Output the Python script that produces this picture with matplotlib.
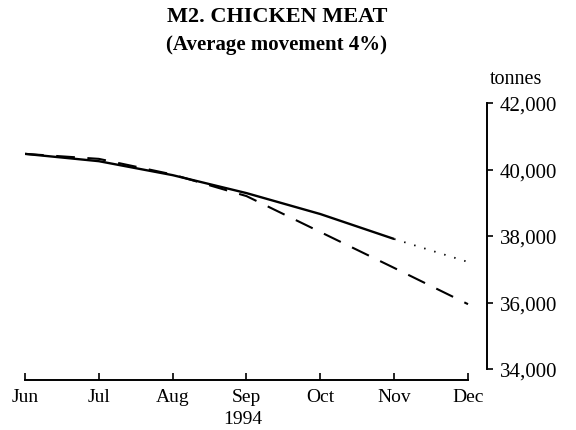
import matplotlib
matplotlib.use("Agg")
import matplotlib.pyplot as plt

months = ["Jun", "Jul", "Aug", "Sep", "Oct", "Nov", "Dec"]
trend_x = [0, 1, 2, 3, 4, 5]
trend = [40470, 40250, 39830, 39290, 38660, 37910]
proj_x = [5, 6]
projection = [37910, 37220]
prev_x = [0, 1, 2, 3, 4, 5, 6]
previous = [40470, 40320, 39850, 39200, 38120, 37040, 35950]
yticks = [34000, 36000, 38000, 40000, 42000]
ytick_labels = ["34,000", "36,000", "38,000", "40,000", "42,000"]

plt.rcParams["font.family"] = ["Liberation Serif", "DejaVu Serif"]

fig = plt.figure(figsize=(5.76, 4.31), dpi=100)
ax = fig.add_axes([25 / 576, (431 - 370) / 431, (487 - 25) / 576, (370 - 104) / 431])

ax.plot(trend_x, trend, color="black", lw=1.7, solid_capstyle="butt")
ax.plot(proj_x, projection, color="black", lw=1.3, linestyle=(0, (0.8, 5)))
ax.plot(prev_x, previous, color="black", lw=1.5, linestyle=(0, (9, 6)))

ax.set_xlim(0, 6 + 19 / 73.83)
ax.set_ylim(34000, 42000)

for s in ["top", "left"]:
    ax.spines[s].set_visible(False)
ax.spines["right"].set_bounds(34000, 42000)
ax.spines["right"].set_linewidth(1.4)
ax.spines["bottom"].set_bounds(0, 6)
ax.spines["bottom"].set_position(("outward", 8))
ax.spines["bottom"].set_linewidth(1.4)

ax.yaxis.tick_right()
ax.set_yticks(yticks)
ax.set_yticklabels(ytick_labels, fontsize=15)
ax.tick_params(axis="y", direction="out", length=4, width=1.2, pad=5)

ax.set_xticks(range(len(months)))
ax.set_xticklabels(months, fontsize=14)
ax.tick_params(axis="x", direction="in", length=5, width=1.2, pad=6)

fig.text(277 / 576, 1 - 17 / 431, "M2. CHICKEN MEAT", ha="center", va="center",
         fontsize=16, fontweight="bold")
fig.text(277 / 576, 1 - 45 / 431, "(Average movement 4%)", ha="center", va="center",
         fontsize=15, fontweight="bold")
fig.text(516 / 576, 1 - 80 / 431, "tonnes", ha="center", va="center", fontsize=14.5)
fig.text(243 / 576, 1 - 420 / 431, "1994", ha="center", va="center", fontsize=14)

fig.savefig("out.png", dpi=100)
